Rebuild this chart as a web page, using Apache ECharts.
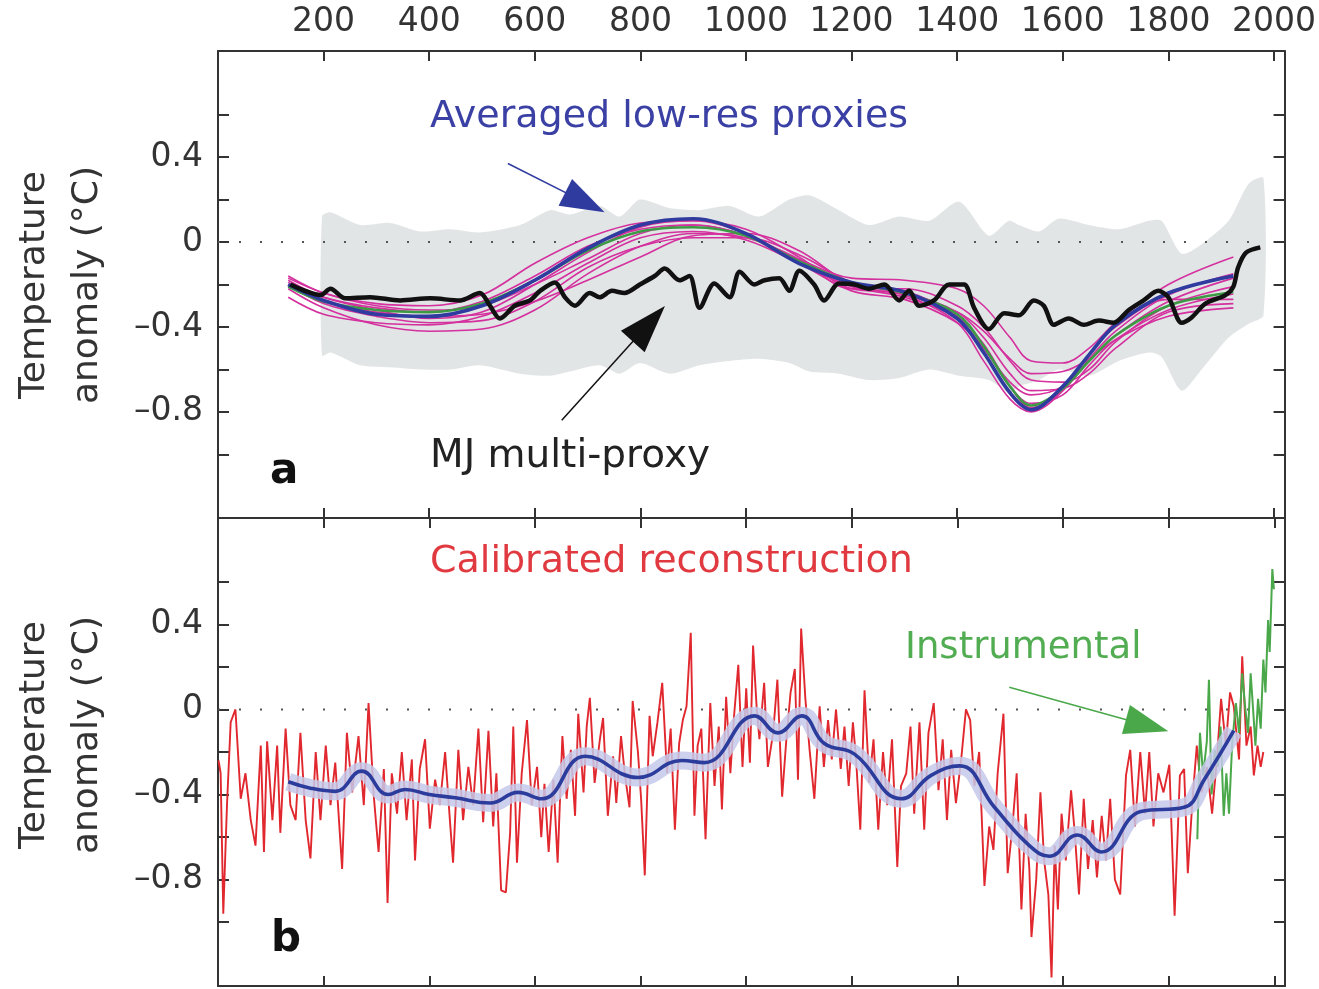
<!DOCTYPE html>
<html><head><meta charset="utf-8">
<script src="https://cdn.jsdelivr.net/npm/echarts@6/dist/echarts.min.js"></script>
<style>html,body{margin:0;padding:0;background:#fff}#c{width:1319px;height:989px}</style>
</head><body><div id="c"></div>
<script>
// ---------- axis ticks ----------
const xTickVals = [200, 400, 600, 800, 1000, 1200, 1400, 1600, 1800, 2000];
const yTickVals = [-1.0, -0.8, -0.6, -0.4, -0.2, 0, 0.2, 0.4, 0.6];
const yLabelVals = [-0.8, -0.4, 0, 0.4];

// ---------- panel a ----------
// MJ multi-proxy (black)
const mjYears = [137,165,194,213,241,288,345,402,458,496,515,534,562,591,610,638,657,676,704,723,746,770,799,827,846,874,893,912,940,969,988,1016,1035,1063,1082,1101,1129,1148,1176,1205,1233,1262,1290,1309,1328,1356,1385,1413,1432,1460,1489,1517,1545,1564,1583,1611,1640,1668,1696,1725,1753,1781,1800,1825,1844,1870,1908,1923,1932,1947,1974];
const mjVals = [-0.20,-0.23,-0.25,-0.22,-0.265,-0.26,-0.275,-0.265,-0.275,-0.24,-0.30,-0.36,-0.30,-0.275,-0.23,-0.19,-0.26,-0.30,-0.24,-0.26,-0.23,-0.24,-0.20,-0.16,-0.125,-0.18,-0.16,-0.31,-0.195,-0.26,-0.14,-0.20,-0.18,-0.17,-0.23,-0.135,-0.20,-0.275,-0.195,-0.20,-0.22,-0.20,-0.275,-0.23,-0.30,-0.275,-0.20,-0.20,-0.31,-0.41,-0.335,-0.345,-0.275,-0.30,-0.39,-0.36,-0.39,-0.37,-0.38,-0.32,-0.275,-0.23,-0.26,-0.38,-0.355,-0.29,-0.25,-0.21,-0.12,-0.05,-0.025];

// grey uncertainty band
const bandYears = [197,213,269,326,383,440,496,572,629,666,723,761,799,855,912,969,1025,1082,1120,1176,1233,1290,1347,1404,1460,1498,1517,1555,1592,1649,1706,1763,1787,1825,1863,1914,1952,1980];
const bandUpper = [0.12,0.14,0.08,0.09,0.05,0.06,0.045,0.08,0.15,0.13,0.17,0.12,0.20,0.16,0.15,0.17,0.12,0.20,0.22,0.15,0.08,0.12,0.10,0.19,0.03,0.10,0.08,0.05,0.11,0.08,0.06,0.10,0.10,-0.055,-0.01,0.10,0.275,0.30];
const bandLower = [-0.535,-0.52,-0.58,-0.59,-0.60,-0.60,-0.58,-0.62,-0.63,-0.61,-0.58,-0.62,-0.57,-0.62,-0.58,-0.56,-0.55,-0.57,-0.61,-0.62,-0.65,-0.64,-0.60,-0.63,-0.65,-0.71,-0.68,-0.65,-0.60,-0.63,-0.56,-0.52,-0.54,-0.70,-0.60,-0.45,-0.385,-0.345];

// low-resolution proxies (smooth curves)
const proxyYears = [133,200,300,400,500,600,700,800,900,1000,1100,1200,1300,1400,1450,1500,1540,1600,1650,1700,1800,1923];
const avgLowRes  = [-0.20,-0.275,-0.34,-0.35,-0.30,-0.18,-0.03,0.08,0.11,0.04,-0.10,-0.19,-0.235,-0.36,-0.52,-0.71,-0.79,-0.68,-0.53,-0.39,-0.24,-0.16];
const greenProxy = [-0.21,-0.28,-0.32,-0.33,-0.29,-0.18,-0.04,0.05,0.07,0.03,-0.09,-0.19,-0.24,-0.34,-0.49,-0.68,-0.77,-0.69,-0.56,-0.44,-0.30,-0.235];
const proxyM1 = [-0.17,-0.24,-0.30,-0.32,-0.30,-0.20,-0.08,0.04,0.08,0.03,-0.08,-0.17,-0.18,-0.22,-0.30,-0.45,-0.56,-0.57,-0.50,-0.38,-0.20,-0.07];
const proxyM2 = [-0.16,-0.24,-0.29,-0.30,-0.25,-0.10,0.02,0.09,0.10,0.04,-0.09,-0.20,-0.23,-0.35,-0.48,-0.68,-0.78,-0.70,-0.55,-0.42,-0.25,-0.15];
const proxyM3 = [-0.19,-0.26,-0.31,-0.33,-0.28,-0.16,-0.02,0.06,0.08,0.03,-0.10,-0.21,-0.26,-0.36,-0.50,-0.66,-0.72,-0.68,-0.56,-0.44,-0.28,-0.17];
const proxyM4 = [-0.22,-0.31,-0.39,-0.42,-0.41,-0.32,-0.15,-0.02,0.04,0.02,-0.08,-0.22,-0.22,-0.30,-0.40,-0.56,-0.65,-0.66,-0.60,-0.47,-0.30,-0.21];
const proxyM5 = [-0.26,-0.34,-0.38,-0.39,-0.35,-0.24,-0.10,0.02,0.05,0.01,-0.10,-0.23,-0.27,-0.38,-0.50,-0.68,-0.76,-0.72,-0.58,-0.46,-0.32,-0.245];
const proxyM6 = [-0.20,-0.29,-0.35,-0.38,-0.37,-0.28,-0.12,-0.02,0.02,0.02,-0.06,-0.19,-0.25,-0.38,-0.56,-0.74,-0.80,-0.70,-0.53,-0.40,-0.27,-0.27];
const proxyM7 = [-0.18,-0.26,-0.32,-0.36,-0.33,-0.20,-0.05,0.07,0.10,0.06,-0.07,-0.22,-0.24,-0.33,-0.45,-0.62,-0.70,-0.69,-0.62,-0.50,-0.33,-0.29];
const proxyM8 = [-0.21,-0.28,-0.33,-0.35,-0.34,-0.28,-0.18,-0.07,0.03,0.04,-0.04,-0.20,-0.25,-0.33,-0.42,-0.55,-0.62,-0.61,-0.55,-0.46,-0.35,-0.31];

// ---------- panel b ----------
const calibYears = [1,5,10,17,24,33,43,52,62,71,81,87,93,103,112,118,128,137,147,156,166,175,185,194,204,213,222,235,244,254,266,276,285,295,304,314,321,329,339,348,357,367,373,382,392,401,411,420,430,439,445,455,464,474,483,493,502,512,
521,527,536,545,553,559,566,575,585,594,604,612,618,626,635,643,652,660,668,676,682,692,698,704,713,723,729,738,748,754,763,770,779,785,795,801,808,817,823,832,841,850,857,865,873,880,887,895,902,908,915,923,932,940,948,954,962,970,977,985,993,1000,1007,1013,
1020,1025,1034,1041,1051,1059,1068,1076,1084,1092,1098,1104,1112,1120,1129,1139,1147,1155,1162,1170,1179,1186,1194,1202,1208,1216,1224,1233,1241,1250,1259,1267,1276,1286,1293,1303,1311,1318,1328,1337,1345,1355,1364,1372,1380,1388,1397,1407,1416,1424,1432,1441,1451,1460,1468,1476,1487,1495,1504,1512,1521,1529,
1536,1540,1549,1557,1564,1572,1578,1584,1590,1597,1605,1615,1622,1630,1639,1647,1656,1664,1673,1681,1689,1698,1708,1719,1727,1736,1746,1755,1763,1771,1780,1790,1801,1811,1821,1829,1836,1845,1853,1862,1872,1882,1891,1899,1908,1916,1923,1933,1939,1947,1955,1961,1968,1974,1979];
const calibVals = [-0.24,-0.30,-0.96,-0.45,-0.06,0.0,-0.42,-0.30,-0.52,-0.64,-0.17,-0.67,-0.15,-0.52,-0.17,-0.58,-0.09,-0.45,-0.52,-0.11,-0.52,-0.70,-0.20,-0.52,-0.17,-0.45,-0.25,-0.75,-0.11,-0.39,-0.125,-0.45,0.03,-0.41,-0.67,-0.28,-0.91,-0.30,-0.49,-0.20,-0.52,-0.235,-0.71,-0.28,-0.14,-0.56,-0.33,-0.45,-0.20,-0.52,-0.72,-0.19,-0.52,-0.27,-0.45,-0.09,-0.53,-0.10,
-0.55,-0.30,-0.85,-0.86,-0.58,-0.08,-0.72,-0.30,-0.05,-0.45,-0.27,-0.60,-0.35,-0.67,-0.33,-0.72,-0.125,-0.42,-0.19,-0.50,-0.02,-0.39,-0.08,0.055,-0.345,-0.14,-0.04,-0.50,-0.22,-0.44,-0.125,-0.30,-0.46,0.04,-0.20,-0.42,-0.78,-0.03,-0.22,-0.06,0.125,-0.30,-0.09,-0.565,-0.16,-0.05,0.015,0.36,-0.50,-0.17,-0.09,-0.61,0.03,-0.36,-0.08,-0.47,0.06,-0.30,-0.03,0.21,-0.27,0.10,-0.25,0.30,
0.0,-0.14,0.125,-0.27,-0.11,0.14,-0.41,-0.14,0.08,0.19,-0.33,0.38,0.05,-0.19,-0.42,0.015,-0.27,-0.05,-0.235,0.0,-0.28,-0.08,-0.36,-0.06,-0.235,-0.565,0.09,-0.345,-0.14,-0.565,-0.20,-0.45,-0.14,-0.74,-0.36,-0.30,-0.08,-0.49,-0.06,-0.565,-0.11,0.03,-0.38,-0.14,-0.52,-0.19,-0.44,-0.235,0.0,-0.05,-0.36,-0.20,-0.83,-0.55,-0.66,-0.30,-0.02,-0.77,-0.55,-0.30,-0.94,-0.49,
-0.75,-1.07,-0.80,-0.39,-0.71,-0.87,-1.26,-0.64,-0.94,-0.49,-0.71,-0.38,-0.58,-0.87,-0.42,-0.75,-0.52,-0.79,-0.50,-0.71,-0.42,-0.80,-0.87,-0.31,-0.19,-0.55,-0.20,-0.49,-0.20,-0.55,-0.30,-0.39,-0.26,-0.97,-0.31,-0.28,-0.77,-0.42,-0.17,-0.39,-0.27,-0.49,-0.235,0.05,-0.17,0.08,0.015,-0.235,0.25,-0.17,-0.08,-0.31,-0.17,-0.27,-0.20];

const smoothYears = [133,175,222,272,322,354,400,449,515,568,613,695,795,878,921,1016,1060,1105,1148,1205,1294,1350,1404,1470,1536,1574,1627,1672,1747,1829,1867,1923];
const smoothVals  = [-0.34,-0.37,-0.385,-0.29,-0.40,-0.376,-0.40,-0.415,-0.44,-0.39,-0.42,-0.22,-0.32,-0.24,-0.25,-0.03,-0.11,-0.03,-0.16,-0.21,-0.42,-0.31,-0.265,-0.46,-0.64,-0.69,-0.59,-0.67,-0.48,-0.46,-0.33,-0.10];

const instYears = [1854,1859,1865,1872,1876,1881,1887,1893,1898,1904,1909,1914,1920,1927,1933,1939,1945,1950,1955,1960,1964,1969,1974,1979,1983,1988,1991,1996,1999];
const instVals  = [-0.61,-0.11,-0.31,-0.15,0.14,-0.40,-0.19,-0.27,-0.08,-0.50,-0.30,-0.49,-0.16,0.03,-0.11,0.17,0.0,-0.11,0.17,-0.015,-0.17,0.05,-0.09,0.235,0.08,0.42,0.27,0.66,0.565];

// ---------- build ----------
const FONT = 'DejaVu Sans';
const AX = '#333';
const pairs = (xs, ys) => xs.map((x, i) => [x, ys[i]]);

function xAx(grid, pos, lbl) {
  return {type:'value', gridIndex:grid, position:pos, min:0, max:2020,
    axisLine:{show:true, onZero:false, lineStyle:{color:AX, width:2}},
    axisTick:{show:true, inside:true, length:10, customValues:xTickVals, lineStyle:{color:AX, width:2}},
    axisLabel:{show:lbl, customValues:xTickVals, margin:12, fontSize:33, fontFamily:FONT, color:'#333',
      formatter: v => String(v)},
    splitLine:{show:false}};
}
function yAx(grid, pos, lbl) {
  return {type:'value', gridIndex:grid, position:pos, min:-1.3, max:0.9,
    axisLine:{show:true, onZero:false, lineStyle:{color:AX, width:2}},
    axisTick:{show:true, inside:true, length:11, customValues:yTickVals, lineStyle:{color:AX, width:2}},
    axisLabel:{show:lbl, customValues:yLabelVals, margin:15, fontSize:33, fontFamily:FONT, color:'#333',
      formatter: v => (Math.abs(v) < 1e-9 ? '0' : (v < 0 ? '\u2013' + Math.abs(v).toFixed(1) : v.toFixed(1)))},
    splitLine:{show:false}};
}

const base = {type:'line', symbol:'none', silent:true, animation:false};
const zeroLine = (gi) => Object.assign({}, base, {xAxisIndex:gi*2, yAxisIndex:gi*2,
  data:[[0,0],[1982,0]], lineStyle:{color:'#555', width:2, type:[2,19]}, z:3});

const magentas = [proxyM1, proxyM2, proxyM3, proxyM4, proxyM5, proxyM6, proxyM7, proxyM8];
const MAG = '#d4309e';

const series = [
  // grey band polygon (upper edge then lower edge reversed), positioned by the axes
  {type:'custom', xAxisIndex:0, yAxisIndex:0, silent:true, animation:false, z:1,
    data:[[bandYears[0], bandUpper[0]]],
    renderItem: function (params, api) {
      const pts = [];
      for (let i = 0; i < bandYears.length; i++) pts.push(api.coord([bandYears[i], bandUpper[i]]));
      for (let i = bandYears.length - 1; i >= 0; i--) pts.push(api.coord([bandYears[i], bandLower[i]]));
      return {type:'polygon', shape:{points:pts, smooth:0.25}, style:{fill:'#e2e5e6', stroke:null}};
    }},
  zeroLine(0),
  ...magentas.map(m => Object.assign({}, base, {xAxisIndex:0, yAxisIndex:0, smooth:0.35,
    data: pairs(proxyYears, m), lineStyle:{color:MAG, width:1.6}, z:4})),
  Object.assign({}, base, {xAxisIndex:0, yAxisIndex:0, smooth:0.35, data: pairs(proxyYears, greenProxy),
    lineStyle:{color:'#3d9a44', width:2.6}, z:5}),
  Object.assign({}, base, {xAxisIndex:0, yAxisIndex:0, smooth:0.35, data: pairs(proxyYears, avgLowRes),
    lineStyle:{color:'#2f3b9f', width:3.6}, z:6,
    markLine:{silent:true, animation:false, symbol:['none','triangle'], symbolSize:[30,44],
      label:{show:false}, lineStyle:{color:'#2f3b9f', width:1.5, type:'solid'}, itemStyle:{color:'#2f3b9f'},
      data:[[{coord:[549,0.37]},{coord:[695,0.187]}]]}}),
  Object.assign({}, base, {xAxisIndex:0, yAxisIndex:0, smooth:0.3, data: pairs(mjYears, mjVals),
    lineStyle:{color:'#111', width:4.5}, z:7,
    markLine:{silent:true, animation:false, symbol:['none','triangle'], symbolSize:[32,48],
      label:{show:false}, lineStyle:{color:'#111', width:1.5, type:'solid'}, itemStyle:{color:'#111'},
      data:[[{coord:[651,-0.84]},{coord:[816,-0.385]}]]}}),

  // panel b
  zeroLine(1),
  Object.assign({}, base, {xAxisIndex:2, yAxisIndex:2, data: pairs(calibYears, calibVals),
    lineStyle:{color:'#e0282e', width:1.9}, z:3}),
  Object.assign({}, base, {xAxisIndex:2, yAxisIndex:2, data: pairs(instYears, instVals),
    lineStyle:{color:'#4aa84a', width:2}, z:4,
    markLine:{silent:true, animation:false, symbol:['none','triangle'], symbolSize:[30,44],
      label:{show:false}, lineStyle:{color:'#4aa84a', width:1.5, type:'solid'}, itemStyle:{color:'#4aa84a'},
      data:[[{coord:[1498,0.104]},{coord:[1759,-0.075]}]]}}),
  Object.assign({}, base, {xAxisIndex:2, yAxisIndex:2, smooth:0.45, data: pairs(smoothYears, smoothVals),
    lineStyle:{color:'#c4c9ea', width:18, opacity:0.85}, z:5}),
  Object.assign({}, base, {xAxisIndex:2, yAxisIndex:2, smooth:0.45, data: pairs(smoothYears, smoothVals),
    lineStyle:{color:'#2c3c9c', width:3.6}, z:6})
];

function txt(x, y, s, color, size, weight, rot) {
  return {type:'text', x:x, y:y, rotation:rot || 0, silent:true, z:100,
    style:{text:s, fill:color, fontSize:size, fontFamily:FONT, fontWeight:weight || 'normal',
      align: rot ? 'center' : 'left', verticalAlign:'middle'}};
}

const option = {
  animation:false,
  backgroundColor:'#fff',
  grid:[
    {left:218, top:51, width:1067, height:467},
    {left:218, top:518, width:1067, height:468}
  ],
  xAxis:[xAx(0,'bottom',false), xAx(0,'top',true), xAx(1,'bottom',false), xAx(1,'top',false)],
  yAxis:[yAx(0,'left',true), yAx(0,'right',false), yAx(1,'left',true), yAx(1,'right',false)],
  series: series,
  graphic:[
    txt(430, 117, 'Averaged low-res proxies', '#3a40a4', 38),
    txt(430, 457, 'MJ multi-proxy', '#222', 39),
    txt(270, 472, 'a', '#111', 42, 'bold'),
    txt(430, 562, 'Calibrated reconstruction', '#e03a40', 38),
    txt(905, 648, 'Instrumental', '#52ad52', 37),
    txt(271, 940, 'b', '#111', 42, 'bold'),
    txt(35, 285, 'Temperature', '#333', 36, 'normal', Math.PI/2),
    txt(88, 285, 'anomaly (°C)', '#333', 36, 'normal', Math.PI/2),
    txt(35, 735, 'Temperature', '#333', 36, 'normal', Math.PI/2),
    txt(88, 735, 'anomaly (°C)', '#333', 36, 'normal', Math.PI/2)
  ]
};
const chart = echarts.init(document.getElementById('c'), null, {renderer:'canvas'});
chart.setOption(option);
</script></body></html>
